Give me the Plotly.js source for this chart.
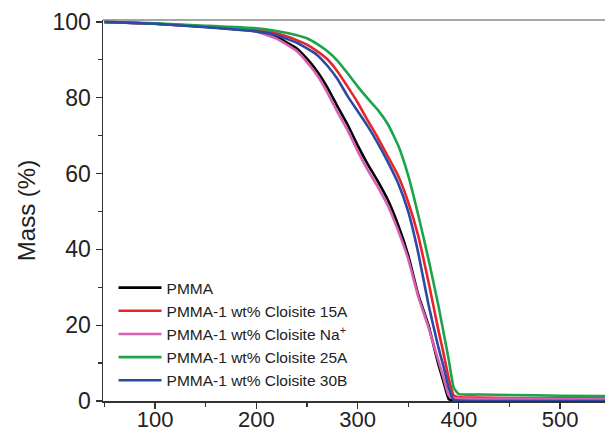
<!DOCTYPE html>
<html>
<head>
<meta charset="utf-8">
<script src="https://cdn.plot.ly/plotly-3.0.1.min.js"></script>
<style>html,body{margin:0;padding:0;background:#fff;}#chart{width:605px;height:435px;}</style>
</head>
<body>
<div id="chart"></div>
<script>
// Temperature (°C)
var temperature = [50, 100, 150, 200, 220, 240, 250, 260, 270, 280, 290, 300, 310, 320, 330, 340, 350, 360, 370, 380, 385, 390, 395, 400, 420, 450, 500, 545];

// Mass (%) per sample
var massPMMA   = [100, 99.5, 98.7, 97.6, 96.0, 93.0, 90.3, 87.0, 82.8, 77.8, 73.0, 67.5, 62.5, 58.0, 53.0, 46.5, 38.5, 28.0, 20.0, 9.5, 5.0, 0.5, 0.1, 0, 0, 0, 0, 0];
var mass15A    = [100, 99.5, 98.8, 97.9, 97.0, 95.2, 94.0, 92.3, 90.2, 87.0, 83.0, 78.8, 74.0, 69.5, 64.5, 59.5, 52.5, 43.5, 31.5, 18.5, 12.5, 6.0, 1.5, 1.0, 0.9, 0.8, 0.8, 0.7];
var massNa     = [100, 99.5, 98.7, 97.4, 95.6, 92.3, 89.4, 86.0, 81.5, 76.3, 71.5, 66.0, 61.0, 56.5, 51.5, 45.0, 37.5, 27.5, 19.5, 10.5, 6.0, 1.5, 0.8, 0.7, 0.6, 0.6, 0.5, 0.5];
var mass25A    = [100, 99.6, 99.0, 98.3, 97.6, 96.5, 95.7, 94.2, 92.3, 89.8, 86.5, 83.0, 79.8, 76.8, 73.0, 67.5, 59.5, 49.0, 37.5, 25.0, 18.0, 11.0, 3.5, 1.8, 1.7, 1.6, 1.4, 1.3];
var mass30B    = [100, 99.5, 98.6, 97.5, 96.5, 94.5, 93.0, 91.3, 88.5, 85.0, 80.5, 76.5, 72.5, 68.0, 63.0, 57.5, 50.0, 39.0, 25.5, 14.0, 9.0, 3.5, 0.3, 0.1, 0, 0, 0, 0];

var seriesNames = ['PMMA', 'PMMA-1 wt% Cloisite 15A', 'PMMA-1 wt% Cloisite Na<sup>+</sup>', 'PMMA-1 wt% Cloisite 25A', 'PMMA-1 wt% Cloisite 30B'];
var seriesValues = [massPMMA, mass15A, massNa, mass25A, mass30B];
var seriesColors = ['#000000', '#e8262a', '#d95fb3', '#1ca34c', '#2b49a6'];

var xTickVals = [100, 200, 300, 400, 500];
var yTickVals = [0, 20, 40, 60, 80, 100];

var traces = seriesNames.map(function (name, i) {
  return {
    x: temperature,
    y: seriesValues[i],
    name: name,
    type: 'scatter',
    mode: 'lines',
    line: {color: seriesColors[i], width: 2.6, shape: 'spline', smoothing: 0.4}
  };
});

var axisFont = {family: 'Liberation Sans, Arial, sans-serif', size: 23, color: '#222'};

var layout = {
  width: 605,
  height: 435,
  margin: {l: 103, r: 0, t: 20, b: 34},
  paper_bgcolor: '#fff',
  plot_bgcolor: '#fff',
  showlegend: true,
  legend: {
    x: 0.021, y: 0.341, xanchor: 'left', yanchor: 'top',
    bgcolor: 'rgba(0,0,0,0)',
    itemwidth: 43,
    font: {family: 'Liberation Sans, Arial, sans-serif', size: 15.5, color: '#222'},
    tracegroupgap: 0
  },
  xaxis: {
    range: [48.6, 544.4],
    tickvals: xTickVals,
    ticks: 'outside', ticklen: 6, tickwidth: 1.2, tickcolor: '#333',
    minor: {dtick: 50, tick0: 0, ticks: 'outside', ticklen: 4, tickcolor: '#333', showgrid: false},
    showline: true, linecolor: '#333', linewidth: 1.5,
    showgrid: false, zeroline: false,
    ticklabelstandoff: -8,
    tickfont: {family: 'Liberation Sans, Arial, sans-serif', size: 22, color: '#222'}
  },
  yaxis: {
    range: [0, 100.5],
    tickvals: yTickVals,
    ticks: 'outside', ticklen: 6, tickwidth: 1.2, tickcolor: '#333',
    minor: {dtick: 10, tick0: 0, ticks: 'outside', ticklen: 4, tickcolor: '#333', showgrid: false},
    showline: true, linecolor: '#333', linewidth: 1.5,
    showgrid: false, zeroline: false,
    tickfont: axisFont,
    title: {text: 'Mass (%)', font: {family: 'Liberation Sans, Arial, sans-serif', size: 24, color: '#222'}, standoff: 10}
  },
  shapes: [{
    type: 'line', xref: 'paper', yref: 'paper', x0: 0, x1: 1, y0: 1, y1: 1,
    line: {color: '#888', width: 1.5}
  }]
};

Plotly.newPlot('chart', traces, layout, {staticPlot: true, displayModeBar: false});
</script>
</body>
</html>
